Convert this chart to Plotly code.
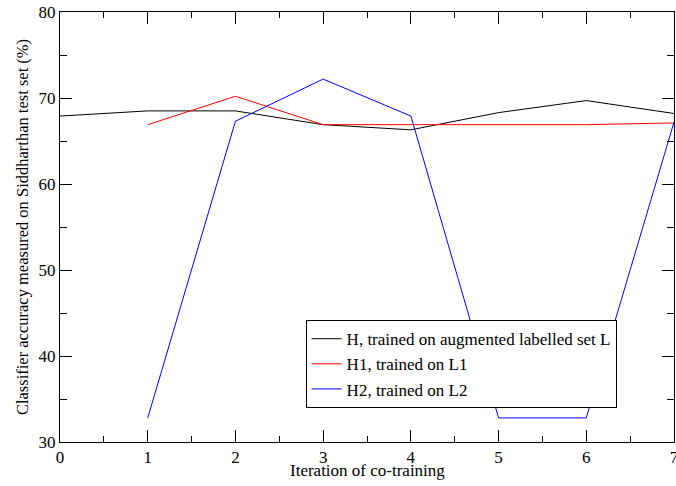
import plotly.graph_objects as go

iterations = [0, 1, 2, 3, 4, 5, 6, 7]
h_values = [67.9, 68.5, 68.5, 66.9, 66.3, 68.3, 69.7, 68.2]
h1_iter = [1, 2, 3, 4, 5, 6, 7]
h1_values = [66.9, 70.2, 66.9, 66.9, 66.9, 66.9, 67.1]
h2_iter = [1, 2, 3, 4, 5, 6, 7]
h2_values = [32.8, 67.3, 72.2, 67.9, 32.8, 32.8, 67.2]

names = ["H, trained on augmented labelled set L", "H1, trained on L1", "H2, trained on L2"]
x_title = "Iteration of co-training"
y_title = "Classifier accuracy measured on Siddharthan test set (%)"

fig = go.Figure()
fig.add_trace(go.Scatter(x=iterations, y=h_values, mode="lines", name=names[0],
                         line=dict(color="black", width=1)))
fig.add_trace(go.Scatter(x=h1_iter, y=h1_values, mode="lines", name=names[1],
                         line=dict(color="red", width=1)))
fig.add_trace(go.Scatter(x=h2_iter, y=h2_values, mode="lines", name=names[2],
                         line=dict(color="blue", width=1)))

font = "Liberation Serif"
fig.update_layout(
    width=676, height=486,
    margin=dict(l=60, r=2, t=12, b=44),
    paper_bgcolor="white", plot_bgcolor="white",
    font=dict(family=font, color="black"),
    showlegend=True,
    legend=dict(x=0.40, y=0.181, xanchor="left", yanchor="middle",
                bordercolor="black", borderwidth=1, bgcolor="white",
                font=dict(size=17, family=font), itemwidth=30,
                tracegroupgap=0),
)
fig.add_annotation(text=x_title, xref="paper", yref="paper", x=0.5, y=-0.067,
                   xanchor="center", yanchor="middle", showarrow=False,
                   font=dict(size=17, family=font, color="black"))
fig.update_xaxes(range=[0, 7], dtick=1, tick0=0, showgrid=False, zeroline=False,
                 automargin=False, ticklabeloverflow="allow",
                 showline=True, linecolor="black", linewidth=1, mirror="allticks",
                 ticks="inside", ticklen=12, tickcolor="black",
                 minor=dict(ticks="inside", dtick=0.5, ticklen=6, tickcolor="black", showgrid=False),
                 tickfont=dict(size=17, family=font))
fig.update_yaxes(range=[30, 80], dtick=10, tick0=30, showgrid=False, zeroline=False,
                 automargin="width", ticklabeloverflow="allow",
                 showline=True, linecolor="black", linewidth=1, mirror="allticks",
                 ticks="inside", ticklen=12, tickcolor="black",
                 minor=dict(ticks="inside", dtick=5, ticklen=7, tickcolor="black", showgrid=False),
                 tickfont=dict(size=17, family=font),
                 title=dict(text=y_title, font=dict(size=16.5, family=font), standoff=5))

fig.write_html("out.html", config={"displayModeBar": False},
               post_script="document.body.style.margin='0';document.body.style.padding='0';")
